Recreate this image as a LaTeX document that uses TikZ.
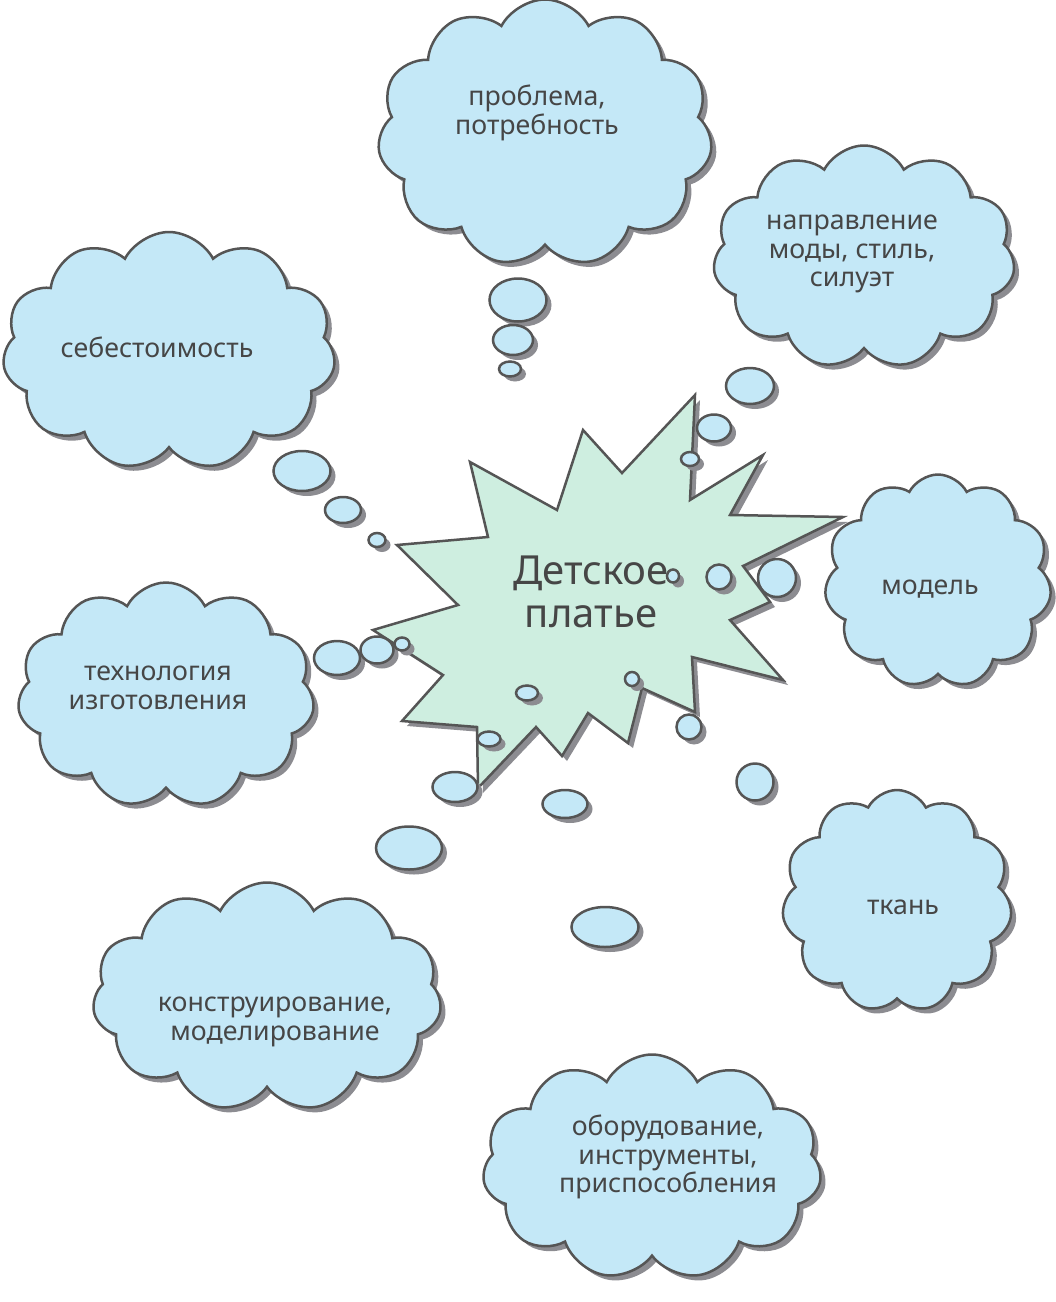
\documentclass[tikz,border=0pt]{standalone}
\usepackage{fontspec}
\setmainfont{Noto Sans}
\usepackage{xcolor}
\usepackage{tikz}
\usetikzlibrary{shapes.geometric, shapes.symbols, shadows}

\definecolor{cloudblue}{RGB}{196,232,247}
\definecolor{starmint}{RGB}{206,238,224}
\definecolor{linegray}{RGB}{85,85,85}
\definecolor{shadowgray}{RGB}{140,140,145}
\definecolor{textgray}{RGB}{70,70,70}

\newlength{\pu}
\setlength{\pu}{0.025cm}

\tikzset{
    softshadow/.style={drop shadow={shadow xshift=5\pu, shadow yshift=-5\pu, fill=shadowgray, opacity=1}},
    thought/.style={cloud, cloud puffs=11, cloud puff arc=125, cloud ignores aspect,
        draw=linegray, line width=2.5\pu, fill=cloudblue, softshadow, inner sep=0pt},
    bubble/.style={ellipse, draw=linegray, line width=2.5\pu, fill=cloudblue, softshadow, inner sep=0pt},
    idea/.style={text=textgray, font=\fontsize{19}{20.5}\selectfont, align=center},
}

\begin{document}
\begin{tikzpicture}[x=0.025cm, y=-0.025cm]
    \useasboundingbox (0,0) rectangle (1056,1302);

    % Draw central starburst
    \filldraw[draw=linegray, line width=2.5\pu, fill=starmint, line join=miter, softshadow]
        (695,395) -- (690,500) -- (763,455) -- (730,515) -- (843,517) -- (743,566)
        -- (770,602) -- (730,620) -- (783,680) -- (692,657) -- (695,712) -- (642,688)
        -- (628,743) -- (588,713) -- (562,756) -- (536,727) -- (478,788) -- (477,727)
        -- (402,721) -- (443,675) -- (373,630) -- (458,605) -- (397,545) -- (488,537)
        -- (470,462) -- (557,510) -- (583,430) -- (622,473) -- cycle;
    \node[text=textgray, font=\fontsize{28.5}{31}\selectfont, align=center] (dress) at (591,592) {Детское\\платье};

    % Draw thought bubbles
    \foreach \x/\y/\w/\h [count=\i] in {518/300/57/43, 513/340/40/30, 510/369/22/15}
        \node[bubble, minimum width=\w\pu, minimum height=\h\pu] (pb\i) at (\x,\y) {};
    \foreach \x/\y/\w/\h [count=\i] in {750/386/48/36, 714/428/34/27, 690/459/18/14}
        \node[bubble, minimum width=\w\pu, minimum height=\h\pu] (st\i) at (\x,\y) {};
    \foreach \x/\y/\w/\h [count=\i] in {302/471/57/40, 343/510/36/26, 377/540/17/14}
        \node[bubble, minimum width=\w\pu, minimum height=\h\pu] (cs\i) at (\x,\y) {};
    \foreach \x/\y/\w/\h [count=\i] in {337/658/46/34, 377/650/33/27, 402/644/15/13}
        \node[bubble, minimum width=\w\pu, minimum height=\h\pu] (te\i) at (\x,\y) {};
    \foreach \x/\y/\w/\h [count=\i] in {777/578/38/38, 719/577/25/25, 673/576/12/13}
        \node[bubble, minimum width=\w\pu, minimum height=\h\pu] (mo\i) at (\x,\y) {};
    \foreach \x/\y/\w/\h [count=\i] in {755/782/37/37, 689/727/25/25, 632/679/14/14}
        \node[bubble, minimum width=\w\pu, minimum height=\h\pu] (fa\i) at (\x,\y) {};
    \foreach \x/\y/\w/\h [count=\i] in {605/927/67/40, 565/804/45/28, 527/693/22/15}
        \node[bubble, minimum width=\w\pu, minimum height=\h\pu] (eq\i) at (\x,\y) {};
    \foreach \x/\y/\w/\h [count=\i] in {409/848/66/43, 455/787/45/30, 489/739/23/15}
        \node[bubble, minimum width=\w\pu, minimum height=\h\pu] (co\i) at (\x,\y) {};

    % Draw clouds
    \node[thought, minimum width=335\pu, minimum height=267\pu] (problem) at (545,133) {};
    \node[thought, minimum width=302\pu, minimum height=223\pu] (style) at (864,257) {};
    \node[thought, minimum width=333\pu, minimum height=238\pu] (cost) at (169,351) {};
    \node[thought, minimum width=227\pu, minimum height=213\pu] (model) at (938,581) {};
    \node[thought, minimum width=297\pu, minimum height=225\pu] (tech) at (166,695) {};
    \node[thought, minimum width=230\pu, minimum height=222\pu] (fabric) at (897,901) {};
    \node[thought, minimum width=349\pu, minimum height=229\pu] (design) at (267,997) {};
    \node[thought, minimum width=339\pu, minimum height=225\pu] (equip) at (652,1167) {};

    % Cloud texts
    \node[idea] at (537,113) {проблема,\\потребность};
    \node[idea] at (852,254) {направление\\моды, стиль,\\силуэт};
    \node[idea] at (157,347) {себестоимость};
    \node[idea] at (930,589) {модель};
    \node[idea] at (158,688) {технология\\изготовления};
    \node[idea] at (903,907) {ткань};
    \node[idea] at (275,1022) {конструирование,\\моделирование};
    \node[idea] at (668,1157) {оборудование,\\инструменты,\\приспособления};
\end{tikzpicture}
\end{document}
